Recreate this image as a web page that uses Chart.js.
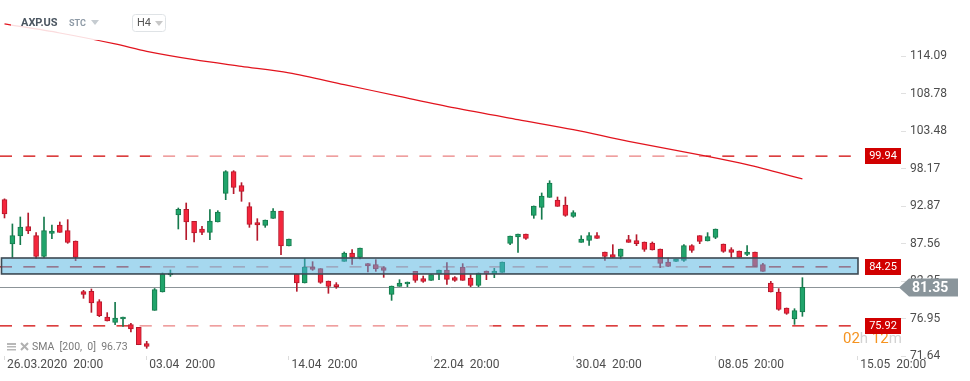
<!DOCTYPE html>
<html>
<head>
<meta charset="utf-8">
<title>AXP.US H4</title>
<script src="https://cdn.jsdelivr.net/npm/chart.js@4/dist/chart.umd.min.js"></script>
<style>
  html, body { margin: 0; padding: 0; background: #fff; }
  canvas { display: block; }
</style>
</head>
<body>
<canvas id="chart" width="970" height="381"></canvas>
<script>
// AXP.US, H4 candles from 26.03.2020 20:00
const opens = [93.78, 87.50, 88.64, 89.96, 88.68, 85.76, 89.01, 90.19, 89.39, 87.93,
  80.75, 80.80, 79.34, 77.16, 76.41, 76.88, 76.08, 75.70, 73.39, 78.11,
  80.70, 83.11, 91.61, 92.41, 90.71, 89.63, 89.16, 90.62, 94.68, 97.75,
  95.77, 92.79, 90.52, 90.15, 91.14, 92.18, 87.22, 83.25, 81.98, 84.25,
  84.01, 82.26, 81.74, 85.05, 86.23, 85.61, 84.72, 84.58, 84.15, 80.37,
  81.51, 81.84, 83.63, 82.59, 82.36, 83.25, 83.82, 82.73, 84.25, 82.69,
  81.65, 83.68, 83.25, 83.49, 87.60, 88.49, 88.92, 91.56, 92.70, 94.11,
  93.74, 93.03, 91.42, 87.74, 88.02, 88.68, 86.37, 85.99, 85.76, 88.12,
  87.98, 87.79, 87.64, 86.79, 84.95, 85.05, 85.19, 87.27, 88.68, 87.93,
  88.45, 87.50, 86.70, 86.51, 86.04, 86.37, 84.58, 81.98, 80.70, 78.44,
  76.88, 77.87];
const highs = [93.90, 90.34, 91.33, 91.89, 89.11, 91.33, 90.19, 90.62, 90.95, 87.93,
  80.94, 81.13, 79.62, 77.78, 79.24, 77.16, 76.27, 75.70, 73.72, 81.20,
  83.40, 83.82, 92.60, 93.31, 90.71, 90.01, 92.37, 92.22, 97.89, 97.89,
  96.19, 93.36, 91.09, 90.90, 92.51, 92.18, 88.21, 83.25, 85.47, 85.00,
  84.01, 82.26, 82.03, 86.37, 86.70, 86.94, 84.72, 85.28, 84.29, 81.55,
  82.45, 82.12, 83.63, 82.97, 83.16, 83.82, 84.86, 82.88, 84.72, 83.16,
  83.40, 83.68, 84.06, 84.95, 88.64, 88.92, 88.92, 92.89, 94.73, 96.47,
  94.16, 94.16, 92.22, 88.68, 89.11, 89.11, 86.37, 87.41, 86.79, 88.73,
  88.82, 87.79, 87.79, 86.79, 85.52, 85.38, 87.41, 87.41, 88.68, 89.11,
  89.63, 87.50, 86.98, 86.51, 87.27, 86.37, 84.76, 82.21, 81.18, 78.44,
  78.34, 82.73];
const lows = [91.19, 85.61, 87.41, 88.97, 85.43, 85.60, 88.26, 89.16, 87.60, 85.14,
  79.81, 77.82, 77.21, 76.60, 76.08, 75.84, 75.04, 73.24, 72.73, 78.11,
  80.70, 82.92, 89.63, 88.12, 87.79, 88.82, 88.12, 90.62, 93.78, 94.63,
  93.55, 89.86, 88.02, 89.86, 91.14, 85.99, 87.22, 80.80, 81.98, 83.77,
  81.93, 80.52, 81.22, 85.05, 84.62, 85.38, 83.54, 83.63, 82.78, 79.52,
  81.51, 81.46, 82.07, 82.07, 82.36, 82.45, 81.79, 82.21, 82.36, 81.46,
  81.46, 82.45, 82.73, 83.49, 87.41, 86.32, 88.16, 91.14, 91.00, 94.11,
  92.84, 91.42, 91.28, 87.74, 87.31, 88.31, 85.19, 85.61, 85.38, 87.74,
  87.27, 86.46, 86.65, 84.15, 84.34, 85.05, 85.05, 86.32, 87.55, 87.93,
  88.26, 86.32, 85.61, 85.61, 85.85, 84.34, 83.63, 80.70, 78.11, 77.54,
  76.12, 77.26];
const closes = [91.75, 88.68, 89.91, 89.34, 85.76, 89.39, 89.34, 89.16, 87.74, 85.61,
  80.37, 79.15, 77.35, 76.60, 77.02, 77.16, 75.46, 73.24, 73.01, 81.03,
  83.25, 83.40, 92.41, 90.62, 89.06, 89.16, 90.76, 92.04, 97.75, 95.53,
  94.96, 90.29, 90.19, 90.90, 92.18, 87.22, 88.21, 81.98, 84.25, 83.91,
  82.07, 81.51, 81.46, 86.23, 85.61, 86.94, 84.39, 83.96, 83.77, 81.55,
  81.98, 82.12, 82.36, 82.21, 83.16, 83.82, 82.50, 82.36, 82.36, 81.65,
  83.40, 83.25, 83.68, 84.95, 88.64, 88.92, 88.31, 92.89, 94.30, 96.14,
  92.84, 91.56, 91.94, 88.21, 88.68, 88.31, 85.76, 85.61, 86.79, 87.74,
  87.55, 86.75, 86.65, 84.76, 84.34, 85.38, 87.27, 86.61, 87.88, 88.54,
  89.63, 86.46, 86.32, 85.61, 86.37, 84.34, 83.63, 80.70, 78.25, 77.68,
  78.06, 81.35];

// SMA(200) at some candles
const smaIndex = [0, 7, 14, 18, 24, 30, 36, 43, 50, 57, 65, 72, 79, 89, 94, 101];
const smaValue = [118.67, 117.39, 115.84, 114.79, 113.61, 112.66, 111.73, 110.07,
  108.41, 106.77, 105.11, 103.70, 102.04, 99.92, 98.74, 96.73];

const tickIndex = [0, 18, 36, 54, 72, 90, 108];
const tickLabels = ['26.03.2020  20:00', '03.04  20:00', '14.04  20:00', '22.04  20:00',
  '30.04  20:00', '08.05  20:00', '15.05  20:00'];
const priceTicks = [114.09, 108.78, 103.48, 98.17, 92.87, 87.56, 82.25, 76.95, 71.64];

const levels = [99.94, 84.25, 75.92];
const zoneLow = 83.26, zoneHigh = 85.52;
const lastPrice = 81.35;

const GREEN = '#20a46b', GREEN_EDGE = '#167a4d';
const RED = '#f4263c', RED_EDGE = '#b5192c';
const FONT = 'Roboto, "Noto Sans", sans-serif';

const idx = opens.map((_, i) => i);
const up = idx.map(i => closes[i] >= opens[i]);

function dashed(ctx, x0, x1, y, color, offset) {
  ctx.save();
  ctx.strokeStyle = color;
  ctx.lineWidth = 1.3;
  ctx.setLineDash([12, 11.3]);
  ctx.lineDashOffset = offset;
  ctx.beginPath();
  ctx.moveTo(x0, y);
  ctx.lineTo(x1, y);
  ctx.stroke();
  ctx.restore();
}

// faded middle part of each level line, in pixels
const fadeFrom = [150, 150, 140];
const fadeTo = [706, 697, 493];

const overlays = {
  id: 'overlays',
  beforeDatasetsDraw(chart) {
    const { ctx, chartArea, scales: { y } } = chart;
    const ly = Math.round(y.getPixelForValue(lastPrice)) + 0.5;
    ctx.save();
    ctx.strokeStyle = '#8c9498';
    ctx.lineWidth = 1;
    ctx.beginPath();
    ctx.moveTo(0, ly);
    ctx.lineTo(chartArea.right, ly);
    ctx.stroke();
    ctx.restore();

    const end = chartArea.right - 41;
    levels.forEach((v, k) => {
      const py = y.getPixelForValue(v);
      dashed(ctx, 0, fadeFrom[k], py, '#d00000', 0);
      dashed(ctx, fadeFrom[k], fadeTo[k], py, 'rgba(214,0,0,0.5)', fadeFrom[k]);
      dashed(ctx, fadeTo[k], end, py, '#d00000', fadeTo[k]);
    });
  },
  afterDatasetsDraw(chart) {
    const { ctx, chartArea, scales: { y } } = chart;
    const top = y.getPixelForValue(zoneHigh);
    const bot = y.getPixelForValue(zoneLow);
    ctx.save();
    ctx.fillStyle = 'rgba(78,178,224,0.5)';
    ctx.fillRect(1.5, top, chartArea.right - 44.5, bot - top);
    ctx.strokeStyle = '#3e4a54';
    ctx.lineWidth = 1.6;
    ctx.strokeRect(1.5, top, chartArea.right - 44.5, bot - top);
    ctx.restore();
  },
  afterDraw(chart) {
    const { ctx, chartArea, scales: { y } } = chart;
    ctx.save();

    // countdown
    ctx.font = '15px ' + FONT;
    ctx.textBaseline = 'alphabetic';
    let cx = 843;
    [['02', '#f5931f'], ['h ', '#d2d2d2'], ['12', '#f5931f'], ['m', '#d2d2d2']].forEach(([t, c]) => {
      ctx.fillStyle = c;
      ctx.fillText(t, cx, 343);
      cx += ctx.measureText(t).width;
    });

    // level labels
    const bx = chartArea.right - 36;
    ctx.font = '11px ' + FONT;
    ctx.textAlign = 'center';
    ctx.textBaseline = 'middle';
    levels.forEach(v => {
      const py = y.getPixelForValue(v);
      ctx.fillStyle = '#d10000';
      ctx.fillRect(bx, Math.round(py) - 8, 36, 16);
      ctx.fillStyle = '#fff';
      ctx.fillText(v.toFixed(2), bx + 18, Math.round(py) + 0.5);
    });

    // last price tag
    const ly = Math.round(y.getPixelForValue(lastPrice)) + 0.5;
    ctx.fillStyle = '#8a959b';
    ctx.beginPath();
    ctx.moveTo(chartArea.right - 2, ly);
    ctx.lineTo(chartArea.right + 8, ly - 9);
    ctx.lineTo(chartArea.right + 57, ly - 9);
    ctx.lineTo(chartArea.right + 57, ly + 9);
    ctx.lineTo(chartArea.right + 8, ly + 9);
    ctx.closePath();
    ctx.fill();
    ctx.fillStyle = '#fff';
    ctx.font = 'bold 14px ' + FONT;
    ctx.textAlign = 'left';
    ctx.fillText(lastPrice.toFixed(2), chartArea.right + 11, ly + 0.5);

    // header
    ctx.fillStyle = 'rgba(255,255,255,0.85)';
    ctx.fillRect(11, 8, 88, 32);
    ctx.font = 'bold 11px ' + FONT;
    ctx.fillStyle = '#4b5661';
    ctx.fillText('AXP.US', 21, 23);
    ctx.font = 'bold 9px ' + FONT;
    ctx.fillStyle = '#8e9aa6';
    ctx.fillText('STC', 69, 24);
    ctx.fillStyle = '#c6ccd1';
    ctx.beginPath();
    ctx.moveTo(91, 20); ctx.lineTo(99, 20); ctx.lineTo(95, 25); ctx.closePath();
    ctx.fill();
    ctx.strokeStyle = '#dfe3e6';
    ctx.lineWidth = 1;
    ctx.beginPath();
    ctx.roundRect(132.5, 14.5, 33, 17, 3);
    ctx.stroke();
    ctx.font = '11px ' + FONT;
    ctx.fillStyle = '#555';
    ctx.fillText('H4', 137, 23.5);
    ctx.fillStyle = '#c8c8c8';
    ctx.beginPath();
    ctx.moveTo(155, 21); ctx.lineTo(163, 21); ctx.lineTo(159, 26); ctx.closePath();
    ctx.fill();

    // indicator legend
    ctx.fillStyle = '#b8b8b8';
    ctx.fillRect(7, 343, 9, 2);
    ctx.fillRect(7, 346, 9, 1.5);
    ctx.fillRect(7, 349, 9, 1.5);
    ctx.strokeStyle = '#b0b0b0';
    ctx.lineWidth = 2;
    ctx.beginPath();
    ctx.moveTo(21, 343); ctx.lineTo(28, 350);
    ctx.moveTo(28, 343); ctx.lineTo(21, 350);
    ctx.stroke();
    ctx.font = '10.5px ' + FONT;
    ctx.fillStyle = '#7a7a7a';
    ctx.fillText('SMA  [200,  0]  ' + smaValue[smaValue.length - 1].toFixed(2), 32, 347.5);
    ctx.restore();
  }
};

new Chart(document.getElementById('chart'), {
  data: {
    datasets: [{
      type: 'line',
      data: smaIndex.map((x, k) => ({ x: x, y: smaValue[k] })),
      borderColor: '#e2141e',
      borderWidth: 1.2,
      pointRadius: 0,
      tension: 0.3,
      order: 3
    }, {
      type: 'bar',
      data: idx.map(i => ({ x: i, y: [lows[i], highs[i]] })),
      backgroundColor: idx.map(i => up[i] ? GREEN_EDGE : RED_EDGE),
      borderWidth: 0,
      barThickness: 1,
      grouped: false,
      order: 2
    }, {
      type: 'bar',
      data: idx.map(i => ({ x: i, y: [opens[i], closes[i]] })),
      backgroundColor: idx.map(i => up[i] ? GREEN : RED),
      borderColor: idx.map(i => up[i] ? GREEN_EDGE : RED_EDGE),
      borderWidth: 1,
      borderSkipped: false,
      barThickness: 5,
      minBarLength: 2,
      grouped: false,
      order: 1
    }]
  },
  options: {
    responsive: false,
    devicePixelRatio: 1,
    animation: false,
    layout: { padding: 0 },
    plugins: { legend: { display: false }, tooltip: { enabled: false } },
    scales: {
      x: {
        type: 'linear',
        offset: false,
        min: -0.57,
        max: 113.48,
        afterBuildTicks: s => { s.ticks = tickIndex.map(v => ({ value: v })); },
        afterFit: s => { s.height = 25; s.paddingLeft = 0; s.paddingRight = 0; },
        grid: { offset: false, drawOnChartArea: false, tickLength: 4, color: '#dcdcdc' },
        border: { display: false },
        ticks: {
          align: 'start',
          labelOffset: 2.5,
          padding: -2,
          maxRotation: 0,
          autoSkip: false,
          color: '#4d4d4d',
          font: { family: FONT, size: 12 },
          callback: v => tickLabels[tickIndex.indexOf(v)]
        }
      },
      y: {
        position: 'right',
        min: 71.64,
        max: 122.06,
        afterBuildTicks: s => { s.ticks = priceTicks.map(v => ({ value: v })); },
        afterFit: s => { s.width = 69; s.paddingTop = 0; s.paddingBottom = 0; },
        grid: { drawOnChartArea: false, tickLength: 5, color: '#e0e0e0' },
        border: { display: false },
        ticks: {
          padding: 4,
          color: '#4d4d4d',
          font: { family: FONT, size: 12 },
          callback: v => v.toFixed(2)
        }
      }
    }
  },
  plugins: [overlays]
});
</script>
</body>
</html>
